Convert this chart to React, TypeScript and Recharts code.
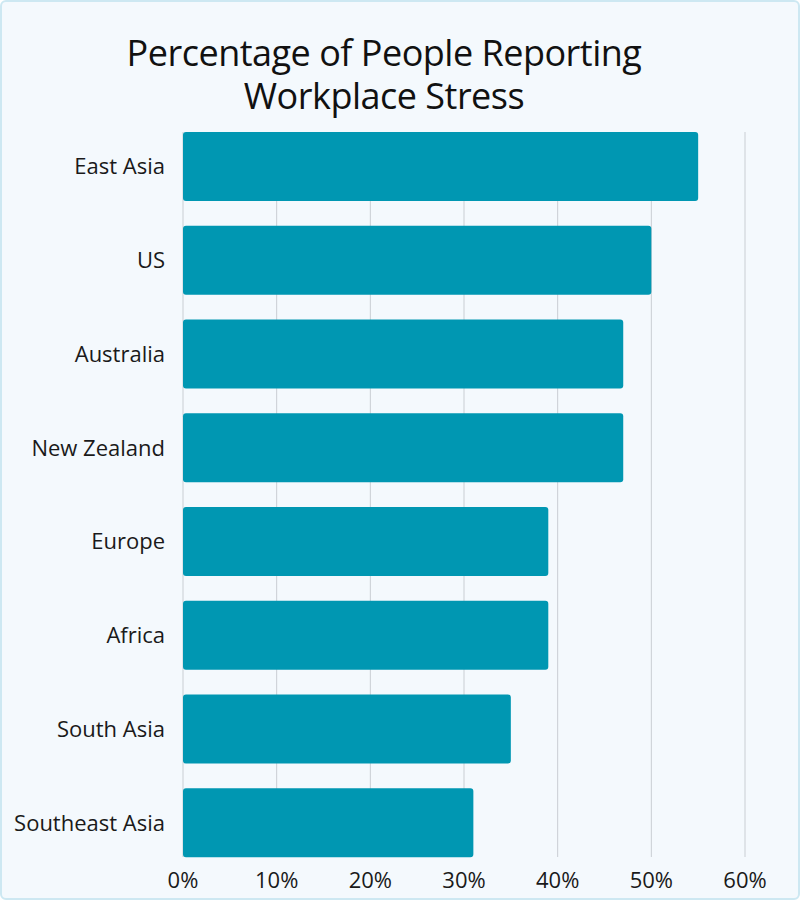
import { BarChart, Bar, XAxis, YAxis, CartesianGrid } from 'recharts';

const regions = [
  'East Asia',
  'US',
  'Australia',
  'New Zealand',
  'Europe',
  'Africa',
  'South Asia',
  'Southeast Asia',
];
const stressPct = [55, 50, 47, 47, 39, 39, 35, 31];
const xTicks = [0, 10, 20, 30, 40, 50, 60];
const titleLines = ['Percentage of People Reporting', 'Workplace Stress'];

const data = regions.map((region, i) => ({ region, value: stressPct[i] }));

const FONT = '"Open Sans", sans-serif';
const BAR_COLOR = '#0097b2';

const App = () => {
  return (
    <div
      style={{
        position: 'absolute',
        left: 0,
        top: 0,
        width: 800,
        height: 900,
        background: '#f4f9fd',
        boxSizing: 'border-box',
        border: '2px solid #cde8f2',
        borderRadius: 6,
        fontFamily: FONT,
        overflow: 'hidden',
      }}
    >
      {titleLines.map((line, i) => (
        <div
          key={line}
          style={{
            position: 'absolute',
            left: 0,
            width: 764,
            top: 31 + i * 43,
            height: 40,
            textAlign: 'center',
            fontSize: 36,
            fontWeight: 500,
            lineHeight: '40px',
            color: '#111',
            letterSpacing: -0.5,
            whiteSpace: 'nowrap',
          }}
        >
          {line}
        </div>
      ))}
      <div style={{ position: 'absolute', left: -2, top: -2 }}>
        <BarChart
          width={800}
          height={900}
          data={data}
          layout="vertical"
          margin={{ top: 119.6, right: 55, bottom: 0, left: 0 }}
          barCategoryGap={12.4}
        >
          <CartesianGrid
            horizontal={false}
            stroke="#c9ced3"
            strokeWidth={1}
            y={132}
            height={725}
          />
          <XAxis
            type="number"
            domain={[0, 60]}
            ticks={xTicks}
            tickFormatter={(v) => `${v}%`}
            axisLine={false}
            tickLine={false}
            tickSize={0}
            tickMargin={3}
            height={30.4}
            interval={0}
            tick={{ fontSize: 22, fill: '#1a1a1a', fontFamily: FONT }}
          />
          <YAxis
            type="category"
            dataKey="region"
            width={183}
            axisLine={false}
            tickLine={false}
            tickSize={0}
            tickMargin={18}
            interval={0}
            tick={{ fontSize: 22, fill: '#1a1a1a', fontFamily: FONT }}
          />
          <Bar dataKey="value" fill={BAR_COLOR} radius={3} isAnimationActive={false} />
        </BarChart>
      </div>
    </div>
  );
};

export default App;
